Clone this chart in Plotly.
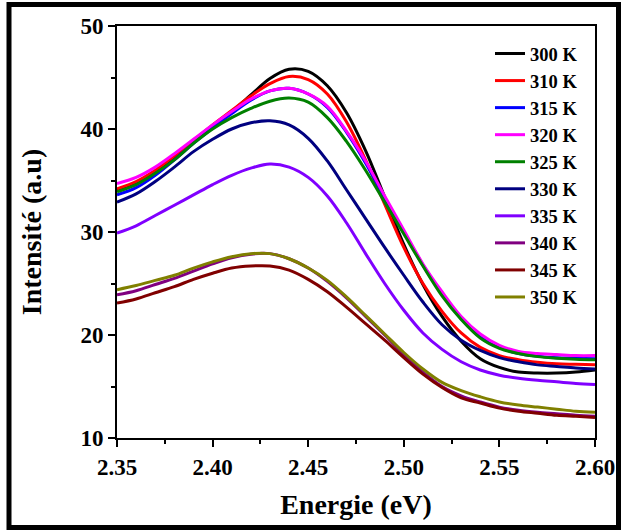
import plotly.graph_objects as go

energy = [2.35, 2.36, 2.37, 2.38, 2.39, 2.40, 2.41, 2.42, 2.43, 2.44, 2.45, 2.46, 2.47,
          2.48, 2.49, 2.50, 2.51, 2.52, 2.53, 2.54, 2.55, 2.56, 2.57, 2.58, 2.59, 2.60]

i_300K = [34.1, 34.8, 35.9, 37.3, 38.8, 40.3, 41.7, 43.3, 44.9, 45.8, 45.6, 44.2, 41.6,
          37.9, 33.4, 28.8, 24.9, 21.8, 19.4, 17.7, 16.85, 16.4, 16.3, 16.3, 16.4, 16.6]
i_310K = [34.2, 34.9, 36.0, 37.4, 38.9, 40.4, 41.8, 43.2, 44.4, 45.1, 44.8, 43.4, 40.7,
          37.0, 32.7, 28.5, 25.0, 22.3, 20.2, 18.8, 18.0, 17.6, 17.35, 17.2, 17.15, 17.1]
i_315K = [33.6, 34.3, 35.5, 37.0, 38.6, 40.1, 41.5, 42.8, 43.7, 43.95, 43.4, 42.1, 39.7,
          36.7, 33.3, 30.0, 26.8, 24.0, 21.6, 19.8, 18.8, 18.2, 17.95, 17.8, 17.75, 17.7]
i_320K = [34.7, 35.3, 36.3, 37.6, 39.0, 40.4, 41.7, 42.9, 43.7, 43.95, 43.4, 42.2, 39.8,
          36.9, 33.5, 30.2, 26.9, 24.2, 21.8, 20.1, 19.0, 18.4, 18.2, 18.1, 18.0, 18.0]
i_325K = [33.9, 34.6, 35.7, 37.0, 38.6, 40.0, 41.1, 42.0, 42.7, 43.0, 42.6, 41.1, 38.8,
          36.0, 32.9, 29.8, 26.7, 23.8, 21.5, 19.7, 18.7, 18.2, 17.9, 17.75, 17.65, 17.6]
i_330K = [32.9, 33.7, 34.9, 36.3, 37.8, 39.0, 40.0, 40.6, 40.8, 40.4, 39.1, 36.9, 34.1,
          31.3, 28.5, 25.8, 23.2, 21.0, 19.5, 18.5, 17.8, 17.4, 17.1, 16.95, 16.8, 16.7]
i_335K = [29.9, 30.6, 31.6, 32.6, 33.6, 34.6, 35.5, 36.2, 36.6, 36.3, 35.3, 33.5, 30.9,
          27.9, 25.0, 22.4, 20.2, 18.6, 17.4, 16.6, 16.1, 15.8, 15.6, 15.45, 15.3, 15.2]
i_340K = [23.9, 24.3, 24.9, 25.5, 26.2, 26.9, 27.5, 27.85, 27.9, 27.4, 26.5, 25.2, 23.6,
          21.8, 20.0, 18.1, 16.4, 15.0, 14.1, 13.5, 13.0, 12.7, 12.5, 12.35, 12.2, 12.1]
i_345K = [23.1, 23.5, 24.1, 24.7, 25.4, 26.0, 26.5, 26.7, 26.7, 26.3, 25.4, 24.2, 22.7,
          21.1, 19.5, 17.8, 16.2, 14.9, 13.9, 13.4, 12.9, 12.6, 12.4, 12.2, 12.1, 12.0]
i_350K = [24.4, 24.8, 25.3, 25.8, 26.5, 27.1, 27.6, 27.9, 27.9, 27.4, 26.5, 25.3, 23.7,
          21.9, 20.1, 18.3, 16.7, 15.4, 14.6, 14.0, 13.5, 13.2, 13.0, 12.8, 12.6, 12.5]

labels = ["300 K", "310 K", "315 K", "320 K", "325 K", "330 K", "335 K", "340 K", "345 K", "350 K"]
series = [i_300K, i_310K, i_315K, i_320K, i_325K, i_330K, i_335K, i_340K, i_345K, i_350K]
colors = ["#000000", "#FF0000", "#0000FF", "#FF00FF", "#008000", "#000080",
          "#8000FF", "#800080", "#800000", "#808000"]

x_ticks = [2.35, 2.40, 2.45, 2.50, 2.55, 2.60]
x_ticktext = ["2.35", "2.40", "2.45", "2.50", "2.55", "2.60"]
y_ticks = [10, 20, 30, 40, 50]

FONT = "Liberation Serif"

fig = go.Figure()
for lab, ys, col in zip(labels, series, colors):
    fig.add_trace(go.Scatter(x=energy, y=ys, name=lab, mode="lines",
                             line=dict(color=col, width=3, shape="spline", smoothing=1.0)))

L, R, T, B = 117, 26, 26, 93
W, H = 621, 531
pw, ph = W - L - R, H - T - B

def px2x(px):
    return (px - L) / pw

def px2y(py):
    return (H - B - py) / ph

fig.update_layout(
    width=W, height=H,
    margin=dict(l=L, r=R, t=T, b=B, autoexpand=False),
    paper_bgcolor="white", plot_bgcolor="white",
    font=dict(family=FONT, color="black", weight="bold"),
    showlegend=True,
    legend=dict(x=px2x(490), y=px2y(35), xanchor="left", yanchor="top",
                bgcolor="rgba(0,0,0,0)", borderwidth=0,
                font=dict(family=FONT, size=18.5, color="black", weight="bold"),
                itemwidth=30, tracegroupgap=0),
    xaxis=dict(range=[2.35, 2.60], tickmode="array", tickvals=x_ticks, ticktext=x_ticktext,
               ticks="outside", ticklen=7, tickwidth=2, tickcolor="black",
               showline=True, linewidth=2, linecolor="black", mirror=True,
               showgrid=False, zeroline=False,
               tickfont=dict(family=FONT, size=23, color="black", weight="bold"),
               minor=dict(ticks="outside", ticklen=4, tickwidth=2, tickcolor="black",
                          dtick=0.025, tick0=2.35, showgrid=False),
               title=dict(text="Energie (eV)", standoff=16,
                          font=dict(family=FONT, size=28, color="black", weight="bold"))),
    yaxis=dict(range=[10, 50], tickmode="array", tickvals=y_ticks,
               ticks="outside", ticklen=7, tickwidth=2, tickcolor="black",
               showline=True, linewidth=2, linecolor="black", mirror=True,
               showgrid=False, zeroline=False,
               tickfont=dict(family=FONT, size=23, color="black", weight="bold"),
               minor=dict(ticks="outside", ticklen=4, tickwidth=2, tickcolor="black",
                          dtick=5, tick0=10, showgrid=False),
               title=dict(text="Intensité (a.u)", standoff=31,
                          font=dict(family=FONT, size=28, color="black", weight="bold"))),
    shapes=[dict(type="rect", xref="paper", yref="paper",
                 x0=px2x(9), x1=px2x(618.5), y0=px2y(527.5), y1=px2y(4.5),
                 line=dict(color="black", width=5), fillcolor="rgba(0,0,0,0)", layer="above")],
)

fig.write_html("out.html", config={"displayModeBar": False},
               post_script="document.body.style.margin='0';document.body.style.padding='0';")
